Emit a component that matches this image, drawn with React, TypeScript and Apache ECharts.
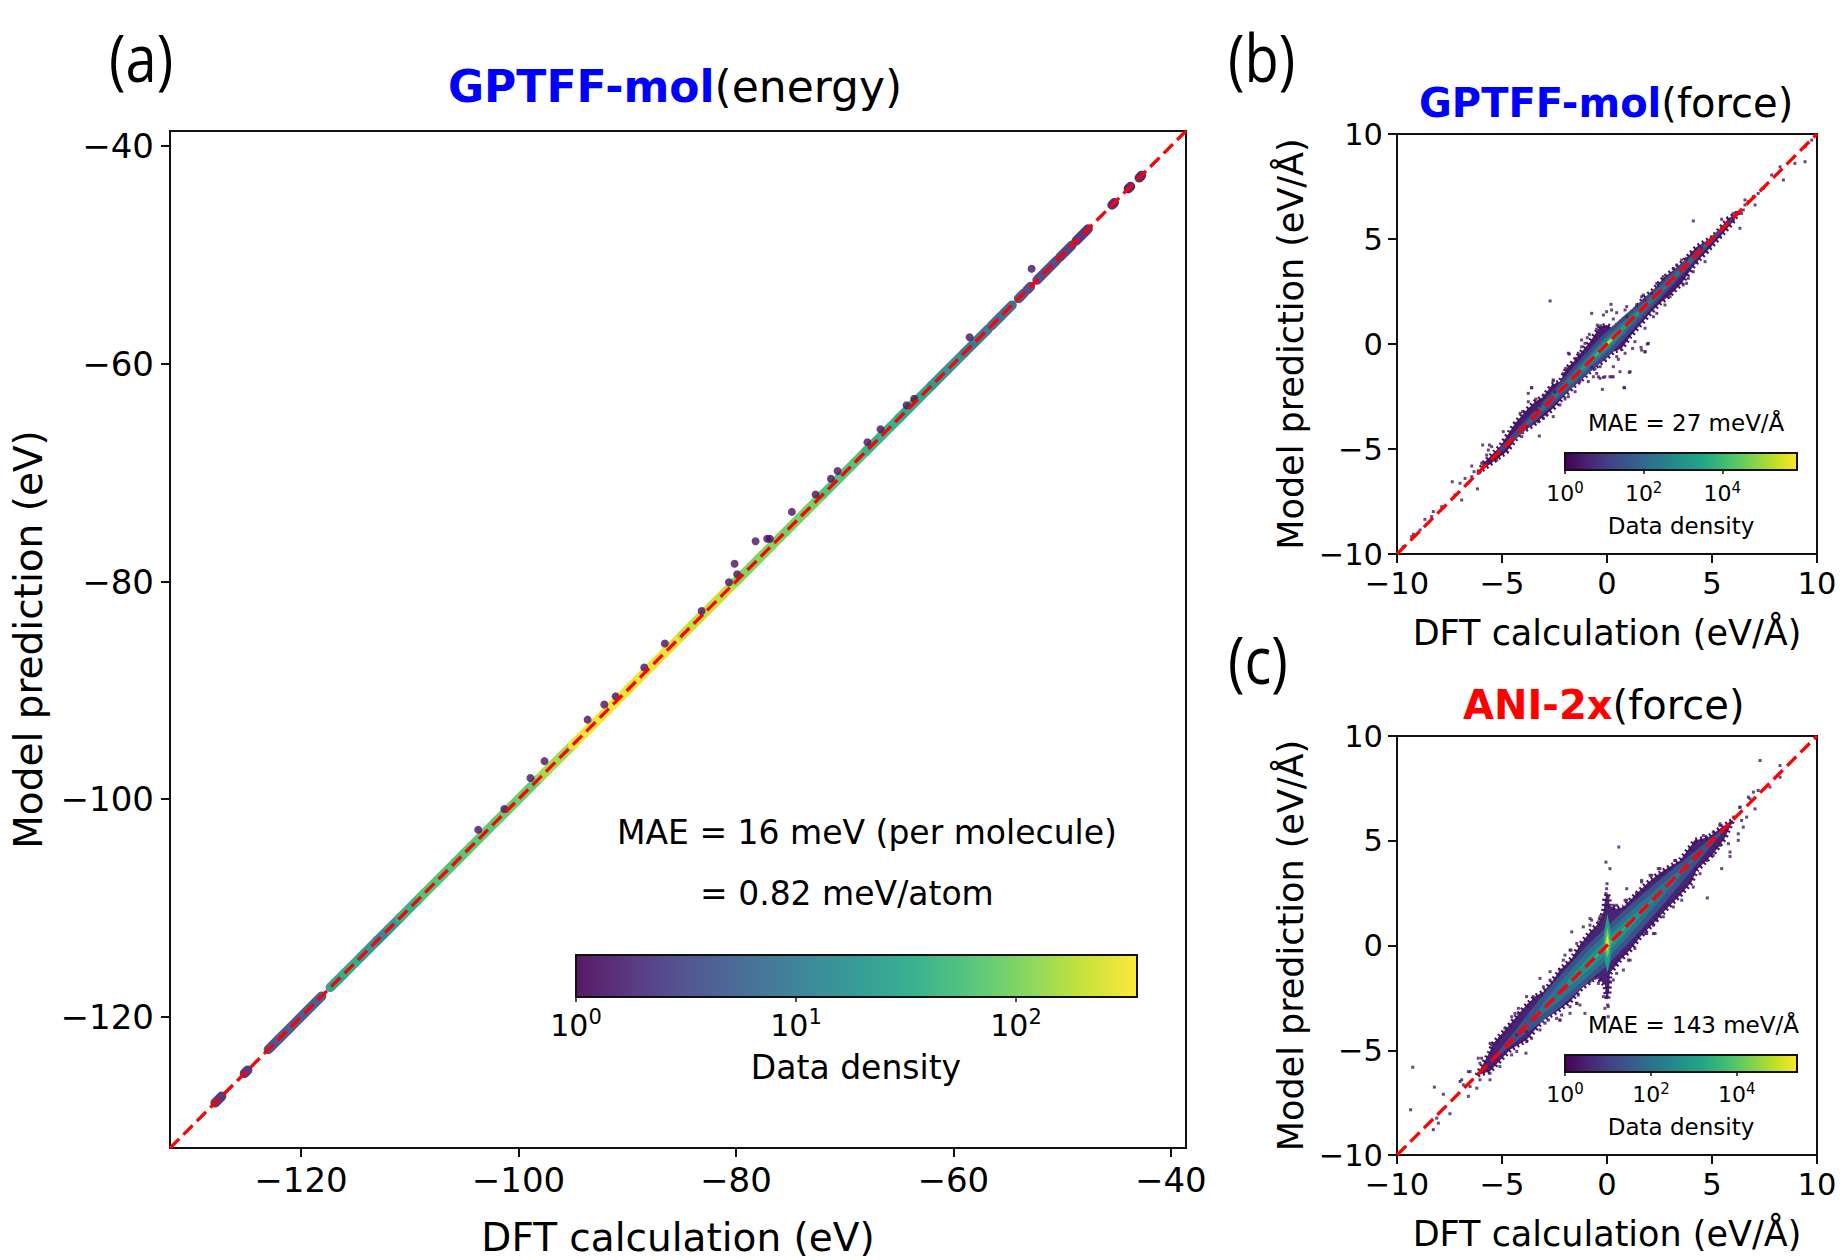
import React, { useEffect, useRef } from "react";
import * as echarts from "echarts";

const FONT = "DejaVu Sans";

// ---------- axis ticks ----------
const energyTicks = [-120, -100, -80, -60, -40];
const forceTicks = [-10, -5, 0, 5, 10];
const energyMin = -132.05;
const energyMax = -38.6;
const cbMaxA = 2.55; // log10 of the colour-bar top, panel (a)
const cbMaxB = 5.9;
const cbMaxC = 5.4;
const cbTicksA = [0, 1, 2];
const cbTicksBC = [0, 2, 4];

// ---------- panel (a): energy parity ----------
const energyDiagonal = [-132.05, -38.6];
// occupied stretches of the diagonal [from, to] and their data density
const energyBandFrom = [-127.9, -125.2, -123, -122, -120.4, -117.3, -116, -114.5, -113, -112, -110.9, -109, -105, -102, -98, -95, -90, -85, -80, -76, -72, -68, -65, -62, -59, -56.5, -54.0, -53.2, -52.3, -50.2, -48.7, -45.4, -43.9, -42.9];
const energyBandTo = [-127.3, -124.9, -122, -120.55, -118.1, -116, -114.5, -113, -112, -110.9, -109, -105, -102, -98, -95, -90, -85, -80, -76, -72, -68, -65, -62, -59, -56.8, -54.6, -53.5, -52.9, -50.5, -49.1, -47.6, -45.2, -43.7, -42.7];
const energyBandDensity = [2, 2, 3.2, 4.3, 4.3, 25, 34, 19, 12, 19, 38, 61, 69, 80, 146, 320, 290, 197, 108, 94, 61, 38, 29, 17, 9.3, 6, 4, 3, 3.2, 2.4, 2, 1.5, 1.5, 1.5];
// stray points away from the diagonal
const energyOutlierX = [-93.64, -92.1, -91.06, -86.53, -88.43, -83.15, -80.64, -79.88, -80.12, -78.19, -77.12, -76.87, -74.85, -72.67, -71.26, -70.65, -52.8, -58.5, -64.3, -63.6, -101.3, -98.9, -97.6, -103.7, -66.7, -67.9];
const energyOutlierY = [-92.69, -91.3, -90.55, -85.7, -87.9, -82.7, -80.06, -79.33, -78.37, -76.3, -76.07, -76.07, -73.6, -72, -70.55, -69.85, -51.25, -57.56, -63.8, -63.2, -100.9, -98.05, -96.5, -102.8, -66, -67.2];

// ---------- panel (b): force density cloud ----------
const bOuterUpper = [[-6.1, -6.1], [-5.89, -5.68], [-5.1, -4.89], [-4.38, -3.78], [-3.9, -3.22], [-3.43, -2.75], [-3.03, -2.51], [-2.63, -1.95], [-2.24, -1.79], [-1.92, -1.16], [-1.6, -0.84], [-1.21, -0.37], [-0.81, 0.11], [-0.33, 0.83], [-0.02, 0.9], [0.3, 0.75], [0.78, 1.14], [1.33, 1.62], [1.73, 2.17], [2.21, 2.57], [2.68, 3.13], [3.16, 3.52], [3.63, 3.92], [4.27, 4.63], [5.06, 5.11], [5.78, 5.98], [6.3, 6.3]];
const bOuterLower = [[-5.73, -5.84], [-4.78, -5.13], [-4.14, -4.25], [-3.51, -3.86], [-3.03, -3.46], [-2.56, -3.06], [-2.0, -2.43], [-1.6, -2.03], [-1.13, -1.63], [-0.65, -1.16], [-0.1, -0.76], [0.3, -0.37], [0.7, -0.21], [1.1, 0.35], [1.57, 0.9], [2.05, 1.46], [2.52, 1.94], [3.0, 2.33], [3.56, 2.89], [4.03, 3.6], [4.43, 4.08], [4.75, 4.4], [5.38, 5.11], [5.9, 5.7]];
// [position along the diagonal, half width] of inner density contours
const bBand2 = [[-5.2, 0.06], [-4, 0.12], [-3, 0.16], [-2, 0.2], [-1, 0.27], [0, 0.32], [1, 0.27], [2, 0.2], [3, 0.17], [4, 0.12], [5, 0.08], [6, 0.03]];
const bBand3 = [[-4, 0.03], [-3, 0.07], [-2, 0.11], [-1, 0.16], [0, 0.2], [1, 0.15], [2, 0.11], [3, 0.09], [4, 0.05], [5, 0.02]];
const bBand4 = [[-1.8, 0.01], [-1, 0.07], [-0.5, 0.1], [0, 0.12], [0.5, 0.1], [1, 0.07], [2, 0.02]];
const bBand5 = [[-0.6, 0.01], [-0.2, 0.05], [0.05, 0.06], [0.3, 0.05], [0.7, 0.01]];
const bBand6 = [[-0.15, 0.01], [0.05, 0.035], [0.25, 0.01]];
const bStray = [[-2.71, 2.05], [4.11, 5.86], [-0.73, 1.46], [-0.17, 1.38], [0.19, 1.89], [0.22, 1.62], [-0.02, 1.54], [0.46, 1.49], [-0.49, 0.71], [-1.21, 0.19], [-1.79, -0.48], [-1.97, -1.16], [-2.56, -1.71], [-3.59, -2.08], [-3.75, -2.35], [-4.02, -3.22], [-4.3, -3.78], [-4.94, -4.17], [-5.6, -4.81], [-5.92, -4.81], [-6.44, -5.81], [-6.76, -6.4], [-7.37, -6.56], [-8.27, -7.98], [-8.67, -8.35], [-9.22, -9.06], [-7.0, -6.63], [-7.24, -7.19], [-6.92, -7.43], [-6.17, -6.9], [-6.44, -6.32], [-7.87, -7.75], [-8.35, -8.22], [-8.9, -8.86], [-9.3, -9.17], [-9.7, -9.65], [-3.22, -4.38], [-0.49, -1.4], [-0.17, -1.59], [0.3, -1.56], [-0.33, -1.63], [-0.22, -2.16], [0.83, -2.08], [1.1, -1.32], [0.54, -0.73], [1.22, -0.21], [1.81, -0.37], [1.62, -0.16], [1.97, 0.03], [0.3, -1.08], [-0.73, -1.11], [5.46, 5.94], [6.02, 5.9], [6.33, 5.51], [6.97, 7.02], [6.57, 6.86], [7.05, 6.62], [7.84, 8.05], [8.4, 7.81], [8.24, 8.44], [8.95, 8.6], [9.43, 8.68], [9.43, 9.4], [9.75, 9.71], [7.44, 7.41], [7.2, 7.17], [6.73, 6.78], [6.49, 6.38], [6.17, 6.14], [3.79, 2.89], [4.27, 3.92], [4.67, 3.92], [3.0, 2.41], [3.16, 2.57], [2.37, 2.89], [1.65, 2.25], [0.94, 1.78]];
const bEdgeUpper = [[-4.14, -3.3], [-3.75, -2.75], [-3.59, -2.08], [-3.38, -2.62], [-3.03, -2.43], [-3.22, -2.9], [-2.56, -1.76], [-2.48, -2.27], [-2.08, -1.4], [-1.84, -0.44], [-1.76, -1.08], [-1.48, -0.68], [-1.37, -0.44], [-1.21, -0.13], [-0.94, 0.3], [-1.05, 0.03], [-0.84, 0.46], [-0.46, 0.9], [-0.3, 0.87], [0.3, 1.19], [0.86, 1.62], [0.94, 1.3], [1.41, 1.86], [1.73, 2.33], [1.81, 2.1], [2.13, 2.41], [2.44, 2.81], [2.68, 3.21], [3.16, 3.6], [3.32, 3.76], [3.56, 4.0], [3.79, 4.08], [4.03, 4.32]];
const bEdgeLower = [[-3.83, -3.94], [-3.27, -3.7], [-3.03, -3.54], [-2.56, -3.46], [-2.24, -2.9], [-2.0, -2.62], [-1.84, -2.51], [-1.52, -2.27], [-1.29, -1.79], [-0.89, -1.79], [-0.65, -1.56], [-0.41, -1.56], [-0.1, -1.56], [0.14, -1.56], [0.22, -1.56], [0.62, -1.32], [1.06, -1.35], [0.81, -2.08], [-0.33, -1.08], [-0.57, -1.19], [0.46, -0.6], [0.86, -0.44], [1.33, 0.11], [1.65, -0.29], [1.81, -0.37], [1.92, 0], [1.81, 0.75], [2.21, 1.3], [2.37, 1.46], [2.76, 1.86], [3.0, 2.25], [3.63, 2.81], [3.87, 3.13], [4.11, 3.44]];
const bEdgeEnds = [[-5.97, -5.68], [-5.65, -5.05], [-5.49, -4.89], [-6.13, -6.16], [-6.33, -6.08], [-5.1, -5.13], [-4.54, -4.17], [-4.38, -4.02], [-3.83, -3.3], [-4.06, -4.41], [-3.35, -3.14], [-2.87, -3.38], [-5.25, -5.52], [-5.73, -5.29], [4.51, 4.56], [4.98, 5.03], [5.38, 5.11], [5.46, 5.51], [5.78, 5.9], [6.02, 6.22], [6.41, 6.22], [6.57, 6.62], [4.9, 4.63]];

// ---------- panel (c): force density cloud ----------
const cOuterUpper = [[-6.2, -6.2], [-5.6, -5.1], [-5.41, -4.67], [-4.78, -3.95], [-3.98, -3.0], [-3.43, -2.44], [-3.03, -2.21], [-2.63, -1.73], [-2.24, -1.17], [-1.68, -0.62], [-1.29, 0.02], [-0.81, 0.65], [-0.41, 1.05], [-0.17, 1.6], [-0.1, 2.2], [0.02, 2.5], [0.1, 2.2], [0.12, 1.9], [0.46, 1.76], [0.78, 1.84], [1.33, 2.4], [1.89, 2.95], [2.37, 3.35], [2.84, 3.67], [3.48, 4.06], [4.19, 5.02], [4.83, 5.17], [5.4, 5.6], [6.0, 6.0]];
const cOuterLower = [[-5.57, -6.0], [-4.62, -4.98], [-3.83, -4.51], [-3.03, -3.56], [-2.4, -3.16], [-1.76, -2.68], [-1.21, -2.05], [-0.49, -1.49], [-0.1, -1.89], [-0.05, -2.3], [0.02, -2.6], [0.1, -2.2], [0.14, -1.33], [0.62, -0.7], [1.1, -0.22], [1.65, 0.49], [2.21, 1.05], [2.84, 1.76], [3.48, 2.4], [4.03, 3.03], [4.27, 3.59], [5.06, 4.38], [5.6, 5.1]];
const cBand2 = [[-5.5, 0.03], [-4.5, 0.12], [-3.5, 0.25], [-2.5, 0.36], [-1.5, 0.42], [-0.5, 0.48], [0.5, 0.45], [1.5, 0.42], [2.5, 0.34], [3.5, 0.25], [4.5, 0.14], [5.5, 0.03]];
const cBand3 = [[-3.5, 0.05], [-2.5, 0.2], [-1.5, 0.27], [-0.5, 0.32], [0.5, 0.3], [1.5, 0.25], [2.5, 0.17], [3.5, 0.08], [4.2, 0.01]];
const cBand4 = [[-2.2, 0.02], [-1.5, 0.12], [-0.5, 0.18], [0.5, 0.17], [1.5, 0.1], [2.5, 0.02]];
const cBand5 = [[-0.8, 0.02], [-0.3, 0.06], [0, 0.09], [0.3, 0.06], [0.9, 0.02]];
// vertical streak through the origin, teal to yellow
const cStreak4 = [[0.02, 1.5], [0.16, 0.8], [0.24, 0.1], [0.16, -0.7], [0.02, -1.3], [-0.12, -0.7], [-0.2, 0.1], [-0.12, 0.8]];
const cStreak5 = [[0.02, 0.85], [0.1, 0.5], [0.14, 0.1], [0.1, -0.3], [0.02, -0.6], [-0.06, -0.3], [-0.1, 0.1], [-0.06, 0.5]];
const cStreak6 = [[0.02, 0.5], [0.07, 0.25], [0.09, 0.1], [0.07, -0.1], [0.02, -0.25], [-0.03, -0.1], [-0.05, 0.1], [-0.03, 0.25]];
const cStray = [[0.56, 4.7], [-0.05, 3.98], [0.14, 3.67], [0, 2.95], [-0.02, 2.71], [-0.05, 2.48], [0.06, 2.32], [0.46, 1.92], [0.94, 2.16], [1.65, 3.11], [2.13, 3.35], [2.52, 3.67], [3.24, 4.06], [7.29, 8.83], [8.24, 8.59], [8.24, 8.03], [7.76, 7.56], [6.97, 7.32], [6.73, 7.08], [7.2, 7.4], [6.33, 6.6], [7.05, 6.52], [6.65, 6.13], [6.49, 5.65], [6.25, 5.33], [6.25, 5.02], [5.86, 4.46], [5.86, 4.25], [5.46, 3.67], [4.78, 2.27], [4.43, 3.43], [5.14, 4.7], [5.38, 5.73], [5.06, 5.41], [4.59, 5.25], [2.37, 1.21], [2.21, 0.57], [1.81, 0.57], [1.1, -0.7], [0.78, -1.17], [0, -1.97], [-0.17, -2.44], [0.06, -2.92], [0.06, -3.4], [-1.05, -3.24], [-1.44, -2.76], [-1.76, -3.24], [-2.24, -3.56], [-2.79, -3.56], [-3.59, -4.43], [-3.86, -5.14], [-1.68, 0.65], [-1.13, 0.89], [-0.73, 1.21], [-1.76, -0.22], [-2.08, -0.7], [-3.19, -1.57], [-4.22, -3.24], [-4.86, -3.95], [-5.57, -4.67], [-6.13, -5.38], [-6.6, -6.02], [-7.0, -6.49], [-9.25, -5.81], [-8.22, -6.76], [-7.79, -7.1], [-9.35, -7.84], [-7.48, -8.03], [-8.11, -8.24], [-8.03, -8.48], [-8.27, -8.79], [-5.57, -6.41], [-6.6, -7.2], [-6.2, -6.81], [-5.57, -5.78]];
const cEdgeUpper = [[-4.54, -3.4], [-4.38, -3.24], [-4.22, -3.0], [-3.83, -2.44], [-3.75, -2.84], [-3.51, -2.44], [-3.11, -2.37], [-3.03, -1.97], [-2.71, -1.65], [-2.71, -1.25], [-2.24, -1.17], [-2.0, -0.46], [-1.71, -0.22], [-1.44, 0.1], [-1.21, 0.02], [-0.81, 0.97], [-0.81, 1.29], [-0.41, 1.13], [-0.33, 1.37], [0.06, 1.92], [0.3, 1.92], [0.86, 2.16], [0.94, 2.71], [1.41, 2.48], [1.65, 3.03], [2.05, 3.35], [2.44, 3.67], [2.68, 3.43], [3.0, 3.67], [3.24, 4.06], [3.95, 4.62], [4.11, 4.54]];
const cEdgeLower = [[-4.3, -4.27], [-3.83, -4.11], [-3.19, -4.03], [-2.95, -3.71], [-2.4, -3.48], [-2.24, -3.56], [-2.16, -3.32], [-1.76, -2.92], [-1.44, -2.76], [-1.29, -2.84], [-1.37, -2.37], [-0.81, -1.73], [-0.57, -1.57], [-0.41, -1.81], [-0.33, -1.65], [-0.02, -2.21], [-0.02, -2.44], [0.03, -2.84], [-0.1, -3.0], [0.14, -1.73], [0.3, -1.65], [0.46, -1.33], [0.86, -0.38], [1.02, -0.7], [1.33, -0.14], [1.89, 0.57], [2.29, 0.57], [2.21, 0.97], [2.68, 1.37], [3.16, 1.84], [3.56, 2.16], [4.11, 2.79], [3.63, 2.71]];
const cEdgeEnds = [[-4.62, -3.79], [-5.1, -4.43], [-5.25, -4.67], [-5.49, -4.75], [-5.97, -5.38], [-6.05, -5.62], [-6.52, -6.02], [-6.92, -6.41], [-6.84, -6.65], [-6.52, -6.73], [-6.05, -6.41], [-5.57, -6.1], [-5.1, -5.78], [-4.54, -5.22], [-4.3, -5.06], [-3.83, -4.59], [4.19, 4.94], [4.75, 5.17], [5.38, 5.81], [5.86, 5.81], [6.02, 6.13], [6.33, 6.6], [6.41, 5.97], [6.81, 7.0], [5.38, 4.78], [5.78, 4.86], [4.75, 4.06], [5.06, 4.3]];

// ---------- colours ----------
const VIRIDIS = [[68, 1, 84], [72, 36, 117], [65, 68, 135], [53, 95, 141], [42, 120, 142], [33, 145, 140], [34, 168, 132], [68, 191, 112], [122, 209, 81], [189, 223, 38], [253, 231, 37]];
const viridis = (t: number, alpha = 1) => {
  const f = Math.max(0, Math.min(0.9999, t)) * 10;
  const i = Math.floor(f);
  const k = f - i;
  const c = [0, 1, 2].map((j) => VIRIDIS[i][j] + (VIRIDIS[i + 1][j] - VIRIDIS[i][j]) * k);
  return `rgb(${c.map((v) => Math.round(v * alpha + 255 * (1 - alpha))).join(",")})`;
};
const densityColour = (d: number) => viridis(Math.log10(d) / cbMaxA, 0.92);
const OUTLIER = viridis(0.02, 0.97);

const bandPolygon = (band: number[][]) => [
  ...band.map(([u, w]) => [u - w, u + w]),
  ...[...band].reverse().map(([u, w]) => [u + w, u - w]),
];
const outline = (upper: number[][], lower: number[][]) => [...upper, ...[...lower].reverse()];

type Layer = { points: number[][]; fill: string; fuzzy?: boolean };
const layersB: Layer[] = [
  { points: outline(bOuterUpper, bOuterLower), fill: viridis(0.08), fuzzy: true },
  { points: bandPolygon(bBand2), fill: viridis(0.22) },
  { points: bandPolygon(bBand3), fill: viridis(0.36) },
  { points: bandPolygon(bBand4), fill: viridis(0.52) },
  { points: bandPolygon(bBand5), fill: viridis(0.72) },
  { points: bandPolygon(bBand6), fill: viridis(0.95) },
];
const layersC: Layer[] = [
  { points: outline(cOuterUpper, cOuterLower), fill: viridis(0.1), fuzzy: true },
  { points: bandPolygon(cBand2), fill: viridis(0.26) },
  { points: bandPolygon(cBand3), fill: viridis(0.38) },
  { points: bandPolygon(cBand4), fill: viridis(0.5) },
  { points: cStreak4, fill: viridis(0.55) },
  { points: bandPolygon(cBand5), fill: viridis(0.64) },
  { points: cStreak5, fill: viridis(0.78) },
  { points: cStreak6, fill: viridis(0.98) },
];

const minus = (v: number) => String(v).replace("-", "\u2212");

const mainAxes = (
  i: number,
  min: number,
  max: number,
  ticks: number[],
  xName: string,
  yName: string,
  tickSize: number,
  nameSize: number,
  xGap: number,
  yGap: number,
  xMargin: number,
  yMargin: number
) => {
  const common = {
    gridIndex: i,
    type: "value",
    min,
    max,
    splitLine: { show: false },
    nameLocation: "middle",
    nameTextStyle: { fontFamily: FONT, fontSize: nameSize, color: "#000" },
    axisLine: { show: true, onZero: false, lineStyle: { color: "#111", width: 2 } },
    axisTick: { show: true, length: 9, customValues: ticks, lineStyle: { color: "#111", width: 2 } },
    axisLabel: {
      show: true,
      customValues: ticks,
      formatter: minus,
      fontFamily: FONT,
      fontSize: tickSize,
      color: "#000",
      showMinLabel: true,
      showMaxLabel: true,
    },
  };
  return {
    x: { ...common, name: xName, nameGap: xGap, axisLabel: { ...common.axisLabel, margin: xMargin } },
    y: { ...common, name: yName, nameGap: yGap, axisLabel: { ...common.axisLabel, margin: yMargin } },
  };
};

const cbAxes = (i: number, max: number, ticks: number[], size: number, tickLen: number, margin: number) => ({
  x: {
    gridIndex: i,
    type: "value",
    min: 0,
    max,
    splitLine: { show: false },
    axisLine: { show: false, onZero: false },
    axisTick: { show: true, length: tickLen, customValues: ticks, lineStyle: { color: "#111", width: 1.5 } },
    axisLabel: {
      show: true,
      customValues: ticks,
      margin,
      formatter: (v: number) => `{b|10}{s|${v}}`,
      rich: {
        b: { fontFamily: FONT, fontSize: size, color: "#000" },
        s: { fontFamily: FONT, fontSize: Math.round(size * 0.7), color: "#000", padding: [0, 0, Math.round(size * 0.55), 0] },
      },
    },
  },
  y: { gridIndex: i, type: "value", min: 0, max: 1, show: false },
});

const cbSeries = (i: number, max: number, alpha: number) => ({
  type: "custom",
  xAxisIndex: i,
  yAxisIndex: i,
  clip: false,
  z: 5,
  silent: true,
  data: [[0, 0]],
  renderItem: (_: any, api: any) => {
    const a = api.coord([0, 0]);
    const b = api.coord([max, 1]);
    const shape = { x: a[0], y: b[1], width: b[0] - a[0], height: a[1] - b[1] };
    const stops = VIRIDIS.map((_c, k) => ({ offset: k / 10, color: viridis(k / 10, alpha) }));
    return {
      type: "group",
      children: [
        { type: "rect", shape, style: { fill: new echarts.graphic.LinearGradient(0, 0, 1, 0, stops) } },
        { type: "rect", shape, style: { fill: "none", stroke: "#111", lineWidth: 2 } },
      ],
    };
  },
});

const cloudSeries = (i: number, layers: Layer[]) => ({
  type: "custom",
  xAxisIndex: i,
  yAxisIndex: i,
  silent: true,
  z: 2,
  data: layers.map((_, k) => [k, k]),
  renderItem: (params: any, api: any) => {
    const l = layers[params.dataIndex];
    const edge = l.fuzzy ? { stroke: viridis(0.04), lineWidth: 5, lineDash: [2, 3] } : {};
    return { type: "polygon", shape: { points: l.points.map((p) => api.coord(p)) }, style: { fill: l.fill, ...edge } };
  },
});

const stray = (i: number, points: number[][]) => ({
  type: "scatter",
  xAxisIndex: i,
  yAxisIndex: i,
  symbol: "rect",
  symbolSize: 3,
  silent: true,
  z: 3,
  itemStyle: { color: viridis(0.06) },
  data: points,
});

const diagonal = (i: number, lo: number, hi: number) => ({
  type: "line",
  xAxisIndex: i,
  yAxisIndex: i,
  showSymbol: false,
  symbol: "none",
  silent: true,
  z: 4,
  lineStyle: { color: "#ff0000", width: 3.3, type: [13, 6] },
  data: [[lo, lo], [hi, hi]],
});

const richAt = (size: number) => ({
  bb: { fontFamily: FONT, fontWeight: "bold", color: "#0000ff", fontSize: size },
  br: { fontFamily: FONT, fontWeight: "bold", color: "#ff0000", fontSize: size },
  n: { fontFamily: FONT, fontWeight: "normal", color: "#000", fontSize: size },
});

const label = (text: string, x: number, y: number, size: number, align = "left") => ({
  type: "text",
  x,
  y,
  silent: true,
  z: 10,
  style: { text, fontFamily: FONT, fontSize: size, fill: "#000", textAlign: align, textVerticalAlign: "middle" },
});
const panelLabel = (text: string, x: number, y: number) => ({
  type: "text",
  x,
  y,
  scaleY: 1.17,
  silent: true,
  z: 10,
  style: { text, fontFamily: "Open Sans", fontSize: 56, fill: "#000", textAlign: "left", textVerticalAlign: "middle" },
});

const option = () => {
  const a = mainAxes(0, energyMin, energyMax, energyTicks, "DFT calculation (eV)", "Model prediction (eV)", 34, 39, 70, 122, 15, 16);
  const b = mainAxes(1, -10, 10, forceTicks, "DFT calculation (eV/\u00c5)", "Model prediction (eV/\u00c5)", 30.5, 35, 61, 89, 14, 14);
  const c = mainAxes(2, -10, 10, forceTicks, "DFT calculation (eV/\u00c5)", "Model prediction (eV/\u00c5)", 30.5, 35, 61, 89, 14, 14);
  const ca = cbAxes(3, cbMaxA, cbTicksA, 30, 5, 9);
  const cb = cbAxes(4, cbMaxB, cbTicksBC, 22, 4, 10);
  const cc = cbAxes(5, cbMaxC, cbTicksBC, 22, 4, 9);
  const frame = { show: true, borderColor: "#111", borderWidth: 2, backgroundColor: "#fff", outerBoundsMode: "none" };
  const inset = { outerBoundsMode: "none" };
  return {
    animation: false,
    backgroundColor: "#fff",
    title: [
      { text: "{bb|GPTFF-mol}{n|(energy)}", left: 443, top: 59, textStyle: { fontWeight: "normal", rich: richAt(44) } },
      { text: "{bb|GPTFF-mol}{n|(force)}", left: 1414, top: 78, textStyle: { fontWeight: "normal", rich: richAt(40) } },
      { text: "{br|ANI-2x}{n|(force)}", left: 1458, top: 680, textStyle: { fontWeight: "normal", rich: richAt(40) } },
    ],
    grid: [
      { left: 170, top: 131, width: 1016, height: 1017, ...frame },
      { left: 1397, top: 134, width: 420, height: 420, ...frame },
      { left: 1397, top: 736, width: 420, height: 419, ...frame },
      { left: 576, top: 955, width: 561, height: 42, ...inset },
      { left: 1565, top: 453, width: 232, height: 17, ...inset },
      { left: 1565, top: 1055, width: 232, height: 17, ...inset },
    ],
    xAxis: [a.x, b.x, c.x, ca.x, cb.x, cc.x],
    yAxis: [a.y, b.y, c.y, ca.y, cb.y, cc.y],
    series: [
      ...energyBandFrom.map((from, k) => ({
        type: "line",
        xAxisIndex: 0,
        yAxisIndex: 0,
        symbol: "none",
        silent: true,
        z: 2,
        lineStyle: { color: densityColour(energyBandDensity[k]), width: 9.5, cap: "round" },
        data: [[from, from], [energyBandTo[k], energyBandTo[k]]],
      })),
      {
        type: "scatter",
        xAxisIndex: 0,
        yAxisIndex: 0,
        symbolSize: 8,
        silent: true,
        z: 2,
        itemStyle: { color: OUTLIER },
        data: energyOutlierX.map((x, k) => [x, energyOutlierY[k]]),
      },
      diagonal(0, energyDiagonal[0], energyDiagonal[1]),
      cloudSeries(1, layersB),
      stray(1, [...bStray, ...bEdgeUpper, ...bEdgeLower, ...bEdgeEnds]),
      diagonal(1, -10, 10),
      cloudSeries(2, layersC),
      stray(2, [...cStray, ...cEdgeUpper, ...cEdgeLower, ...cEdgeEnds]),
      diagonal(2, -10, 10),
      cbSeries(3, cbMaxA, 0.9),
      cbSeries(4, cbMaxB, 1),
      cbSeries(5, cbMaxC, 1),
    ],
    graphic: [
      panelLabel("(a)", 109, 57),
      panelLabel("(b)", 1228, 57),
      panelLabel("(c)", 1228, 659),
      label("MAE = 16 meV (per molecule)", 617, 832, 33),
      label("= 0.82 meV/atom", 700, 893, 33),
      label("Data density", 856, 1067, 33, "center"),
      label("MAE = 27 meV/\u00c5", 1588, 423, 23),
      label("Data density", 1681, 526, 23, "center"),
      label("MAE = 143 meV/\u00c5", 1588, 1025, 23),
      label("Data density", 1681, 1127, 23, "center"),
    ],
  };
};

export default function App() {
  const ref = useRef<HTMLDivElement>(null);
  useEffect(() => {
    document.body.style.margin = "0";
    const chart = echarts.init(ref.current!, undefined, { renderer: "svg" });
    chart.setOption(option() as any);
    return () => chart.dispose();
  }, []);
  return <div ref={ref} style={{ width: 1846, height: 1260 }} />;
}
